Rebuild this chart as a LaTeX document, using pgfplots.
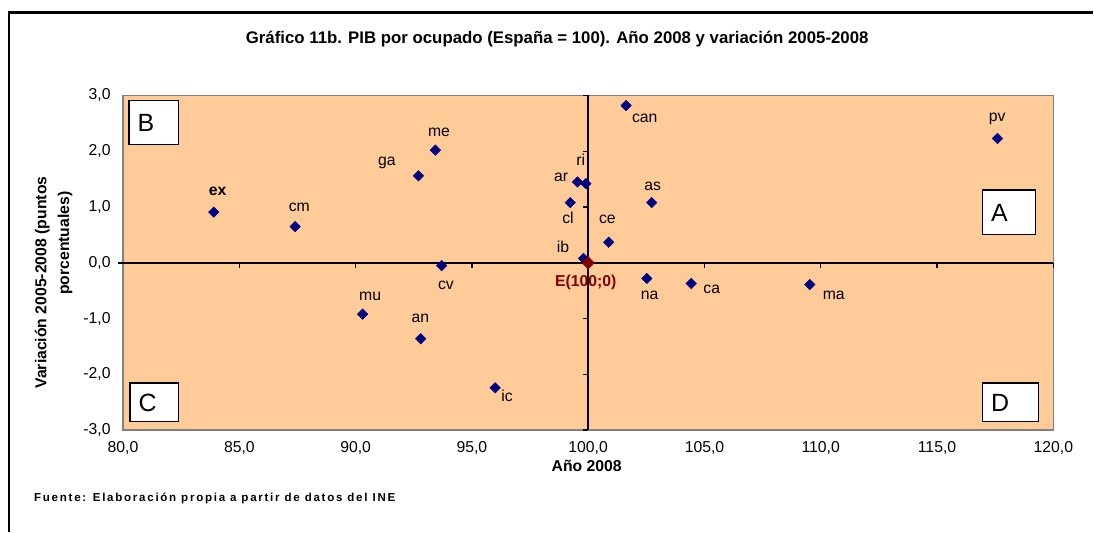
\documentclass[border=0pt]{standalone}
\usepackage{fontspec}
\setmainfont{Liberation Sans}
\usepackage{pgfplots}
\pgfplotsset{compat=1.18}
\definecolor{peach}{HTML}{FFCC99}
\definecolor{navy}{HTML}{000080}
\definecolor{maroon}{HTML}{800000}

\begin{document}
\begin{tikzpicture}
% page frame, 1px = 0.75pt, y downwards
\begin{scope}[x=0.75pt,y=-0.75pt]
  \useasboundingbox (0,0) rectangle (1094,522);
  \fill[white] (0,0) rectangle (1094,522);
\end{scope}

\begin{axis}[
  at={(93.75pt,-327.75pt)}, anchor=south west,
  scale only axis, width=708.75pt, height=255pt,
  xmin=80, xmax=120, ymin=-3, ymax=3,
  axis background/.style={fill=peach},
  axis line style={draw=gray, line width=1.1pt},
  xtick={80,85,90,95,100,105,110,115,120},
  xticklabels={{80,0},{85,0},{90,0},{95,0},{100,0},{105,0},{110,0},{115,0},{120,0}},
  ytick={-3,-2,-1,0,1,2,3},
  yticklabels={{-3,0},{-2,0},{-1,0},{0,0},{1,0},{2,0},{3,0}},
  major tick length=0pt,
  tick label style={font=\fontsize{12}{14}\selectfont},
  xticklabel style={yshift=-5pt},
  yticklabel style={xshift=-6pt},
  clip=false,
]
% cross lines at E(100;0)
\draw[line width=1.1pt] (axis cs:80,0) -- (axis cs:120,0);
\draw[line width=1.1pt] (axis cs:100,-3) -- (axis cs:100,3);
\pgfplotsinvokeforeach{85,90,95,100,105,110,115,120}{
  \draw[line width=1.1pt] (axis cs:#1,0) -- ++(0pt,-4pt);
}
\pgfplotsinvokeforeach{-3,-2,-1,1,2,3}{
  \draw[line width=1.1pt] (axis cs:100,#1) -- ++(-4pt,0pt);
}
\draw[line width=1.1pt] (axis cs:80,0) -- ++(-4pt,0pt);

% comunidades
\addplot[only marks, mark=square*, mark size=2.8pt, color=navy,
  mark options={rotate=45}] coordinates {
  (83.9,0.91)   % ex
  (87.4,0.65)   % cm
  (92.7,1.56)   % ga
  (93.43,2.02)  % me
  (93.7,-0.05)  % cv
  (90.3,-0.92)  % mu
  (92.8,-1.36)  % an
  (96.0,-2.24)  % ic
  (101.63,2.82) % can
  (99.9,1.42)   % ri
  (99.54,1.45)  % ar
  (99.23,1.08)  % cl
  (102.73,1.08) % as
  (100.88,0.37) % ce
  (99.8,0.08)   % ib
  (117.6,2.23)  % pv
  (102.52,-0.28) % na
  (104.43,-0.37) % ca
  (109.53,-0.39) % ma
};
% Espana
\addplot[only marks, mark=square*, mark size=3.3pt, color=maroon,
  mark options={rotate=45}] coordinates {(100,0)};
\end{axis}

\begin{scope}[x=0.75pt,y=-0.75pt]
  \draw[line width=2pt] (9,540) -- (9,13) -- (1110,13);
  \node[font=\bfseries\fontsize{12.8}{15}\selectfont] at (566,40)
    {Gráfico 11b. PIB por ocupado (España = 100). Año 2008 y variación 2005-2008};
  \node[rotate=90, font=\bfseries\fontsize{12}{14}\selectfont] at (43,287)
    {Variación 2005-2008 (puntos};
  \node[rotate=90, font=\bfseries\fontsize{12}{14}\selectfont] at (66,247)
    {porcentuales)};
  \node[font=\bfseries\fontsize{12}{14}\selectfont] at (596,473) {Año 2008};
  \node[anchor=west, font=\bfseries\fontsize{8.8}{10}\selectfont\addfontfeature{LetterSpace=15}]
    at (30,506) {Fuente: Elaboración propia a partir de datos del INE};

  % cuadrantes
  \tikzset{quad/.style={draw=black, line width=1pt, fill=white}}
  \draw[quad] (131,102) rectangle (181,147);
  \node[anchor=west, font=\fontsize{19}{21}\selectfont] at (135,125) {B};
  \draw[quad] (998,193) rectangle (1052,238);
  \node[anchor=west, font=\fontsize{19}{21}\selectfont] at (1002,216) {A};
  \draw[quad] (132,389) rectangle (181,428);
  \node[anchor=west, font=\fontsize{19}{21}\selectfont] at (136,409) {C};
  \draw[quad] (998,389) rectangle (1055,428);
  \node[anchor=west, font=\fontsize{19}{21}\selectfont] at (1002,409) {D};

  % etiquetas de los puntos
  \tikzset{lab/.style={font=\fontsize{12}{14}\selectfont, inner sep=0pt}}
  \node[lab, font=\bfseries\fontsize{12}{14}\selectfont] at (221,194) {ex};
  \node[lab] at (304,211) {cm};
  \node[lab] at (393,165) {ga};
  \node[lab] at (446,134) {me};
  \node[lab] at (453,290) {cv};
  \node[lab] at (376,301) {mu};
  \node[lab] at (427,323) {an};
  \node[lab] at (515,402) {ic};
  \node[lab] at (655,120) {can};
  \node[lab] at (590,162) {ri};
  \node[lab] at (570,180) {ar};
  \node[lab] at (577,221) {cl};
  \node[lab] at (663,189) {as};
  \node[lab] at (617,223) {ce};
  \node[lab] at (572,251) {ib};
  \node[lab] at (1013,121) {pv};
  \node[lab] at (660,300) {na};
  \node[lab] at (723,294) {ca};
  \node[lab] at (847,300) {ma};
  \node[lab, text=maroon, font=\bfseries\fontsize{12}{14}\selectfont] at (595,287) {E(100;0)};
\end{scope}
\end{tikzpicture}
\end{document}
